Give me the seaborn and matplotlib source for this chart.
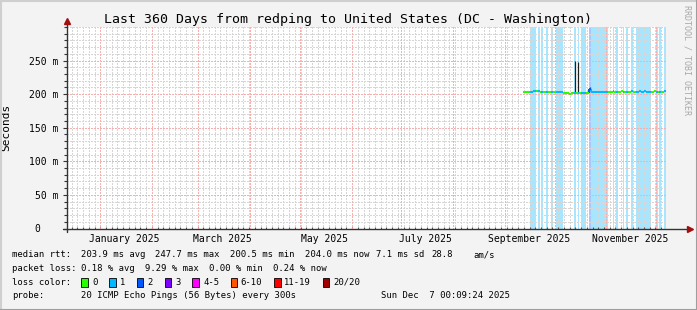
import numpy as np
import pandas as pd
import matplotlib
matplotlib.use("Agg")
import matplotlib.pyplot as plt
import matplotlib.dates as mdates
from matplotlib.ticker import MultipleLocator, FuncFormatter, FixedLocator
from matplotlib.patches import Rectangle
from matplotlib.lines import Line2D
import seaborn as sns

# ---------------- data ----------------
title = "Last 360 Days from redping to United States (DC - Washington)"
range_start = "2024-12-12 00:09:24"
range_end = "2025-12-07 00:09:24"

first_day = "2025-09-12"          # one sample per day from here
median_ms = [
    202.8, 203.0, 203.3, 203.6, 203.8, 203.9, 204.0, 204.6, 205.2, 204.8,
    203.9, 203.7, 203.6, 203.8, 203.5, 203.6, 203.7, 203.4, 203.5, 203.6,
    203.3, 203.0, 202.8, 202.5, 202.2, 201.8, 201.5, 201.0, 200.6, 201.3,
    201.6, 201.7, 201.8, 202.0, 202.1, 202.0, 202.2, 202.1, 202.3, 202.4,
    208.3, 203.8, 203.9, 203.8, 203.7, 203.8, 203.9, 203.7, 203.8, 203.9,
    203.8, 203.4, 203.2, 203.9, 204.1, 203.3, 203.8, 203.1, 203.5, 204.2,
    203.9, 203.4, 203.7, 203.2, 203.6, 204.3, 203.5, 203.8, 203.9, 203.6,
    204.0, 203.7, 203.9, 204.2, 203.8, 203.6, 203.9, 203.3, 203.5, 204.0,
    203.6, 203.2, 203.8, 203.5, 203.4, 204.0,
]
loss_level = [
    0, 0, 0, 0, 1, 1, 1, 1, 0, 1,
    0, 1, 0, 0, 1, 0, 0, 1, 0, 0,
    1, 1, 1, 1, 0, 0, 0, 0, 0, 0,
    0, 1, 0, 1, 0, 1, 1, 1, 0, 0,
    2, 1, 1, 1, 1, 1, 1, 1, 1, 1,
    1, 0, 0, 0, 1, 0, 1, 0, 0, 0,
    1, 0, 1, 0, 0, 1, 0, 0, 1, 1,
    1, 1, 1, 1, 1, 1, 1, 0, 0, 0,
    1, 0, 1, 0, 0, 1,
]
smoke_time = ["2025-09-19 12:00", "2025-10-13 14:00", "2025-10-15 10:00", "2025-10-22 06:00"]
smoke_lo_ms = [204.5, 201.5, 201.5, 207.0]
smoke_hi_ms = [206.5, 250.0, 248.5, 210.5]

loss_names = ["0", "1", "2", "3", "4-5", "6-10", "11-19", "20/20"]
loss_colors = ["#26ff00", "#00b8ff", "#0059ff", "#7e00ff", "#ff00ff", "#ff5500", "#ff0000", "#a10000"]

label_months = ["2025-01", "2025-03", "2025-05", "2025-07", "2025-09", "2025-11"]
y_ticks_ms = [0, 50, 100, 150, 200, 250]

rtt_stats = ["203.9 ms avg", "247.7 ms max", "200.5 ms min", "204.0 ms now", "7.1 ms sd", "28.8", "am/s"]
loss_stats = ["0.18 % avg", "9.29 % max", "0.00 % min", "0.24 % now"]
probe_text = "20 ICMP Echo Pings (56 Bytes) every 300s"
stamp_text = "Sun Dec  7 00:09:24 2025"

# ---------------- style ----------------
sns.set_theme(style="white")
plt.rcParams["font.family"] = ["DejaVu Sans Mono", "DejaVu Sans"]
plt.rcParams["axes.unicode_minus"] = False

W, H = 697, 310
L, R, T, B = 67, 666, 27, 228.5

fig = plt.figure(figsize=(W / 100, H / 100), dpi=100, facecolor="#F3F3F3")
ax = fig.add_axes([L / W, 1 - B / H, (R - L) / W, (B - T) / H])
ax.set_facecolor("white")

t0 = pd.Timestamp(range_start)
t1 = pd.Timestamp(range_end)
ax.set_xlim(t0, t1)
ax.set_ylim(0, 0.3)

days = pd.date_range(first_day, periods=len(median_ms), freq="D")
one_day = pd.Timedelta(days=1)
med = np.array(median_ms) / 1000.0

# loss background bands
for d, lv in zip(days, loss_level):
    if lv > 0:
        ax.axvspan(d, d + one_day, color=loss_colors[lv], alpha=0.34, lw=0, zorder=1)

# grid
ax.set_axisbelow("line")
minor_x = [mdates.date2num(pd.Timestamp("2025-01-01")) + 3.44 * k for k in range(-12, 110)]
lo_num, hi_num = mdates.date2num(t0), mdates.date2num(t1)
minor_x = [m for m in minor_x if lo_num < m <= hi_num]
ax.xaxis.set_minor_locator(FixedLocator(minor_x))
label_pos = [pd.Timestamp(m + "-01") + pd.Timedelta(days=14.6) for m in label_months]
ax.set_xticks(label_pos)
ax.set_xticklabels([pd.Timestamp(m + "-01").strftime("%B %Y") for m in label_months])

ax.yaxis.set_major_locator(FixedLocator([v / 1000 for v in y_ticks_ms]))
ax.yaxis.set_minor_locator(MultipleLocator(0.01))
ax.yaxis.set_major_formatter(FuncFormatter(lambda v, p: "0   " if abs(v) < 1e-9 else f"{v * 1000:.0f} m"))

dots = (0, (1.4, 1.4))
ax.grid(which="minor", axis="both", color="#D6D6D6", ls=dots, lw=0.72, antialiased=False)
ax.grid(which="major", axis="x", visible=False)
ax.grid(which="major", axis="y", color="#F5B0B0", ls=dots, lw=0.72, antialiased=False)
for m in pd.date_range("2025-01-01", "2025-12-01", freq="MS"):
    ax.axvline(m, color="#F5B0B0", ls=dots, lw=0.72, zorder=1.6, antialiased=False)

# smoke
ax.vlines(pd.to_datetime(smoke_time), np.array(smoke_lo_ms) / 1000, np.array(smoke_hi_ms) / 1000,
          colors="#202020", lw=0.9, zorder=3)

# median line, coloured by loss
seg_cols = [loss_colors[lv] for lv in loss_level]
ax.vlines(days[1:], med[:-1], med[1:], colors=seg_cols[1:], lw=1.5, zorder=4)
ax.hlines(med, days, days + one_day, colors=seg_cols, lw=1.5, zorder=4)

# axes, ticks
for s in ax.spines.values():
    s.set_visible(False)
ax.tick_params(axis="y", which="major", length=3, width=0.8, color="#333333", pad=3,
               labelsize=7, labelcolor="#000000", left=True)
ax.tick_params(axis="y", which="minor", length=2, width=0.8, color="#333333", left=True)
ax.tick_params(axis="x", which="major", length=0, pad=4, labelsize=7, labelcolor="#000000", bottom=True)
ax.tick_params(axis="x", which="minor", length=1.5, width=0.8, color="#555555", bottom=True, direction="in")

ax.plot([-0.006, 1.035], [0, 0], transform=ax.transAxes, color="#333333", lw=1.0, clip_on=False, zorder=5)
ax.plot([0, 0], [-0.015, 1.025], transform=ax.transAxes, color="#333333", lw=1.0, clip_on=False, zorder=5)
ax.plot([1.04], [0], marker=">", ms=4, color="#A01010", transform=ax.transAxes, clip_on=False, zorder=6)
ax.plot([0], [1.03], marker="^", ms=4, color="#A01010", transform=ax.transAxes, clip_on=False, zorder=6)

ax.set_ylabel("Seconds", fontsize=8, color="#000000")
ax.yaxis.set_label_coords((11 - L) / (R - L), 0.5)

# title and watermark
fig.text(348.5 / W, 1 - 19 / H, title, ha="center", va="center", fontsize=9.55, color="#000000")
fig.text(686.5 / W, 1 - 60 / H, "RRDTOOL / TOBI OETIKER", rotation=-90, ha="center", va="center",
         fontsize=6, color="#A8A8A8")

# legend text
LF = 6.4
def ftext(x, y, s, **kw):
    fig.text(x / W, 1 - y / H, s, ha="left", va="center", fontsize=LF, color="#000000", **kw)

y1, y2, y3, y4 = 254.7, 268.3, 282.3, 296.0
ftext(12.3, y1, "median rtt:")
for x, s in zip([80.7, 155.3, 230.0, 305.0, 376.0, 431.0, 473.3], rtt_stats):
    ftext(x, y1, s)
ftext(12.3, y2, "packet loss:")
for x, s in zip([80.7, 144.7, 209.3, 273.3], loss_stats):
    ftext(x, y2, s)
ftext(12.3, y3, "loss color:")
box_x = [81.0, 109.0, 136.7, 164.7, 192.3, 230.7, 274.0, 322.7]
lab_x = [92.3, 120.0, 147.7, 175.7, 203.3, 240.7, 284.0, 333.3]
for bx, lx, c, n in zip(box_x, lab_x, loss_colors, loss_names):
    fig.patches.append(Rectangle((bx / W, 1 - (y3 + 4.3) / H), 6.5 / W, 8.5 / H,
                                 transform=fig.transFigure, facecolor=c, edgecolor="#000000", lw=0.6))
    ftext(lx, y3, n)
ftext(12.3, y4, "probe:")
ftext(80.7, y4, probe_text)
fig.text(510 / W, 1 - y4 / H, stamp_text, ha="right", va="center", fontsize=LF, color="#000000")

# outer frame shading
fig.add_artist(Line2D([0.5 / W, 0.5 / W], [0, 1], transform=fig.transFigure, color="#CFCFCF", lw=1.5))
fig.add_artist(Line2D([0, 1], [1 - 0.5 / H, 1 - 0.5 / H], transform=fig.transFigure, color="#CFCFCF", lw=1.5))
fig.add_artist(Line2D([1 - 0.5 / W, 1 - 0.5 / W], [0, 1], transform=fig.transFigure, color="#9E9E9E", lw=1.5))
fig.add_artist(Line2D([0, 1], [0.5 / H, 0.5 / H], transform=fig.transFigure, color="#9E9E9E", lw=1.5))

fig.savefig("out.png", dpi=100, facecolor=fig.get_facecolor())
